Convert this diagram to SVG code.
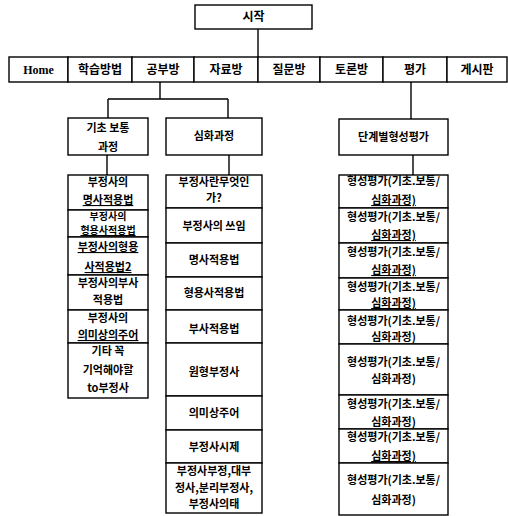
<svg xmlns="http://www.w3.org/2000/svg" width="508" height="516" viewBox="0 0 508 516">
<style>
rect{fill:#fff;stroke:#000;stroke-width:1.4}
text{font-family:"Noto Sans CJK KR","Noto Sans",sans-serif;font-weight:bold;font-size:11px;fill:#000;text-anchor:middle}
.m{font-size:12px}
.s{font-size:10px}
.home{font-family:"Liberation Serif",serif;font-size:12px}
.u{text-decoration:underline}
#connectors path{stroke:#000;stroke-width:1.4;fill:none}
</style>
<rect x="0" y="0" width="508" height="516" style="fill:#fff;stroke:none"/>
<g id="connectors">
<path d="M258 29V57"/>
<path d="M160 82V99M108 99H228M108 99V118M228 99V118"/>
<path d="M107 155V175"/>
<path d="M229 155V175"/>
<path d="M411 82V119"/>
<path d="M413 155V175"/>
</g>
<g id="start"><rect x="195" y="5" width="117" height="24"/><text class="m" x="253.5" y="21">시작</text></g>
<g id="nav-home"><rect x="9" y="57" width="59" height="25"/><text class="home" x="38.5" y="74">Home</text></g>
<g id="nav-method"><rect x="68" y="57" width="64" height="25"/><text class="m" x="100" y="74">학습방법</text></g>
<g id="nav-study"><rect x="132" y="57" width="62" height="25"/><text class="m" x="163" y="74">공부방</text></g>
<g id="nav-data"><rect x="194" y="57" width="64" height="25"/><text class="m" x="226" y="74">자료방</text></g>
<g id="nav-qna"><rect x="258" y="57" width="62" height="25"/><text class="m" x="289" y="74">질문방</text></g>
<g id="nav-debate"><rect x="320" y="57" width="63" height="25"/><text class="m" x="351.5" y="74">토론방</text></g>
<g id="nav-eval"><rect x="383" y="57" width="64" height="25"/><text class="m" x="415" y="74">평가</text></g>
<g id="nav-board"><rect x="447" y="57" width="60" height="25"/><text class="m" x="477" y="74">게시판</text></g>

<g id="basic"><rect x="68" y="118" width="80" height="37"/><text x="108" y="132">기초 보통</text><text x="108" y="151">과정</text></g>
<g id="advanced"><rect x="166" y="118" width="96" height="37"/><text x="214" y="140">심화과정</text></g>
<g id="stage-eval"><rect x="339" y="119" width="109" height="36"/><text x="393.5" y="141">단계별형성평가</text></g>

<g id="b1"><rect x="68" y="175" width="80" height="35"/><text x="108" y="186">부정사의</text><text class="u" x="108" y="204">명사적용법</text></g>
<g id="b2"><rect x="68" y="210" width="80" height="27"/><text class="s" x="108" y="219.5">부정사의</text><text class="s u" x="108" y="234">형용사적용법</text></g>
<g id="b3"><rect x="68" y="237" width="80" height="38"/><text class="u" x="108" y="251">부정사의형용</text><text class="u" x="108" y="271">사적용법2</text></g>
<g id="b4"><rect x="68" y="275" width="80" height="35"/><text x="108" y="287">부정사의부사</text><text x="108" y="304">적용법</text></g>
<g id="b5"><rect x="68" y="310" width="80" height="33"/><text x="108" y="322">부정사의</text><text class="u" x="108" y="339">의미상의주어</text></g>
<g id="b6"><rect x="68" y="343" width="80" height="55"/><text x="108" y="355">기타 꼭</text><text x="108" y="374">기억해야할</text><text x="108" y="392">to부정사</text></g>

<g id="a1"><rect x="166" y="175" width="96" height="33"/><text x="214" y="186">부정사란무엇인</text><text x="214" y="202">가?</text></g>
<g id="a2"><rect x="166" y="208" width="96" height="35"/><text x="214" y="230">부정사의 쓰임</text></g>
<g id="a3"><rect x="166" y="243" width="96" height="34"/><text x="214" y="264">명사적용법</text></g>
<g id="a4"><rect x="166" y="277" width="96" height="33"/><text x="214" y="297">형용사적용법</text></g>
<g id="a5"><rect x="166" y="310" width="96" height="33"/><text x="214" y="333">부사적용법</text></g>
<g id="a6"><rect x="166" y="343" width="96" height="53"/><text x="214" y="376">원형부정사</text></g>
<g id="a7"><rect x="166" y="396" width="96" height="34"/><text x="214" y="417">의미상주어</text></g>
<g id="a8"><rect x="166" y="430" width="96" height="33"/><text x="214" y="451">부정사시제</text></g>
<g id="a9"><rect x="166" y="463" width="96" height="50"/><text x="214" y="475">부정사부정,대부</text><text x="214" y="492">정사,분리부정사,</text><text x="214" y="508">부정사의태</text></g>

<g id="e1"><rect x="339" y="175" width="109" height="33"/><text x="393.5" y="185">형성평가(기초.보통/</text><text class="u" x="393.5" y="204">심화과정)</text></g>
<g id="e2"><rect x="339" y="208" width="109" height="35"/><text x="393.5" y="221">형성평가(기초.보통/</text><text class="u" x="393.5" y="239">심화과정)</text></g>
<g id="e3"><rect x="339" y="243" width="109" height="35"/><text x="393.5" y="256">형성평가(기초.보통/</text><text class="u" x="393.5" y="274">심화과정)</text></g>
<g id="e4"><rect x="339" y="278" width="109" height="32"/><text x="393.5" y="291">형성평가(기초.보통/</text><text class="u" x="393.5" y="307">심화과정)</text></g>
<g id="e5"><rect x="339" y="310" width="109" height="34"/><text x="393.5" y="325">형성평가(기초.보통/</text><text x="393.5" y="341">심화과정)</text></g>
<g id="e6"><rect x="339" y="344" width="109" height="51"/><text x="393.5" y="366">형성평가(기초.보통/</text><text x="393.5" y="383">심화과정)</text></g>
<g id="e7"><rect x="339" y="395" width="109" height="34"/><text x="393.5" y="408">형성평가(기초.보통/</text><text x="393.5" y="426">심화과정)</text></g>
<g id="e8"><rect x="339" y="429" width="109" height="34"/><text x="393.5" y="441">형성평가(기초.보통/</text><text class="u" x="393.5" y="460">심화과정)</text></g>
<g id="e9"><rect x="339" y="463" width="109" height="52"/><text x="393.5" y="484">형성평가(기초.보통/</text><text x="393.5" y="504">심화과정)</text></g>
</svg>
